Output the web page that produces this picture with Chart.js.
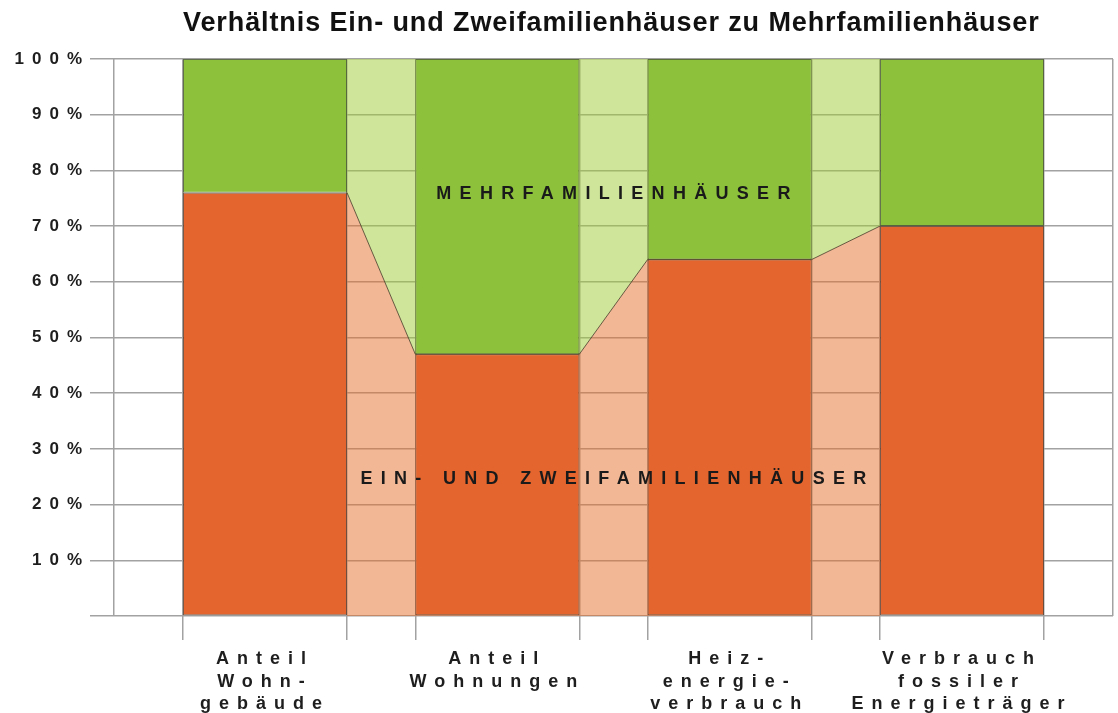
<!DOCTYPE html>
<html>
<head>
<meta charset="utf-8">
<script src="https://cdn.jsdelivr.net/npm/chart.js@4.4.1/dist/chart.umd.min.js"></script>
<style>
html, body { margin: 0; padding: 0; background: #fff; }
#wrap { position: relative; width: 1118px; height: 713px; }
#myChart { position: absolute; left: 0; top: 0; }
#title {
  position: absolute; left: 183px; top: 9px;
  font: bold 27px "Liberation Sans", Arial, sans-serif;
  line-height: 27px; letter-spacing: 0.9px; color: #111; white-space: nowrap;
}
</style>
</head>
<body>
<div id="wrap">
  <canvas id="myChart" width="1118" height="713"></canvas>
  <div id="title">Verhältnis Ein- und Zweifamilienhäuser zu Mehrfamilienhäuser</div>
</div>
<script>
// categories (one bar each) and share of Ein-/Zweifamilienhäuser in %
const categories = [
  ["Anteil", "Wohn-", "gebäude"],
  ["Anteil", "Wohnungen"],
  ["Heiz-", "energie-", "verbrauch"],
  ["Verbrauch", "fossiler", "Energieträger"]
];
const efhShare = [76, 47, 64, 70];
const areaLabels = ["MEHRFAMILIENHÄUSER", "EIN- UND ZWEIFAMILIENHÄUSER"];
const areaLabelY = [75.8, 24.6];
const yTicks = [0, 10, 20, 30, 40, 50, 60, 70, 80, 90, 100];

const BAR_FRAC = 0.706;   // bar width as part of one category step
const X_MIN = -0.65, X_MAX = 3.65;
const GRID = '#a2a2a2';
const ORANGE = '#e4652d', GREEN = '#8dc03b';
const FONT = '"Liberation Sans", Arial, sans-serif';

// bar edges -> vertical grid lines, connector points
const edges = [];
const joinPts = [];
efhShare.forEach((v, i) => {
  edges.push(i - BAR_FRAC / 2, i + BAR_FRAC / 2);
  if (i > 0) joinPts.push({x: i - BAR_FRAC / 2, y: v});
  if (i < efhShare.length - 1) joinPts.push({x: i + BAR_FRAC / 2, y: v});
});
const xGridTicks = [X_MIN].concat(edges, [X_MAX]);

const spacing = {
  id: 'spacing',
  beforeDraw(chart) { chart.ctx.letterSpacing = '8px'; }
};

const insideLabels = {
  id: 'insideLabels',
  afterDatasetsDraw(chart) {
    const ctx = chart.ctx, x = chart.scales.x, y = chart.scales.y;
    ctx.save();
    ctx.font = 'bold 18px ' + FONT;
    ctx.letterSpacing = '8.3px';
    ctx.fillStyle = '#1a1a1a';
    ctx.textAlign = 'center';
    ctx.textBaseline = 'middle';
    areaLabels.forEach((t, i) => {
      ctx.fillText(t, x.getPixelForValue(1.5) + 4, y.getPixelForValue(areaLabelY[i]));
    });
    ctx.restore();
  }
};

new Chart("myChart", {
  data: {
    datasets: [
      {
        type: 'bar', xAxisID: 'xl', order: 0, grouped: false,
        data: efhShare.map((v, i) => ({x: i, y: [0, v]})),
        backgroundColor: ORANGE, borderColor: 'rgba(90,50,30,0.75)', borderWidth: 1, borderSkipped: false,
        barPercentage: BAR_FRAC, categoryPercentage: 1
      },
      {
        type: 'bar', xAxisID: 'xl', order: 0, grouped: false,
        data: efhShare.map((v, i) => ({x: i, y: [v, 100]})),
        backgroundColor: GREEN, borderColor: 'rgba(60,80,30,0.75)', borderWidth: 1, borderSkipped: false,
        barPercentage: BAR_FRAC, categoryPercentage: 1
      },
      {
        type: 'line', xAxisID: 'x', order: 1,
        data: joinPts,
        fill: 'origin', backgroundColor: 'rgba(229,111,43,0.5)',
        borderColor: 'rgba(70,60,40,0.8)', borderWidth: 1, pointRadius: 0, tension: 0
      },
      {
        type: 'line', xAxisID: 'x', order: 1,
        data: joinPts.map(p => ({x: p.x, y: 100})),
        fill: '-1', backgroundColor: 'rgba(159,203,53,0.5)',
        borderWidth: 0, pointRadius: 0, tension: 0
      }
    ]
  },
  options: {
    responsive: false,
    animation: false,
    layout: {padding: {top: 59, right: 5, left: 0, bottom: 0}},
    plugins: {legend: {display: false}, tooltip: {enabled: false}, title: {display: false}},
    scales: {
      x: {
        type: 'linear', position: 'bottom', weight: 0, min: X_MIN, max: X_MAX, offset: false,
        afterBuildTicks: s => { s.ticks = xGridTicks.map(v => ({value: v})); },
        afterFit: s => { s.height = 24; },
        ticks: {display: false},
        border: {display: false},
        grid: {
          offset: false, color: GRID, lineWidth: 1.5, tickLength: 24,
          tickColor: c => (c.tick && (c.tick.value <= X_MIN + 1e-6 || c.tick.value >= X_MAX - 1e-6)) ? 'rgba(0,0,0,0)' : GRID
        }
      },
      xl: {
        type: 'linear', position: 'bottom', weight: 1, min: X_MIN, max: X_MAX, offset: false,
        afterBuildTicks: s => { s.ticks = categories.map((c, i) => ({value: i})); },
        afterFit: s => { s.height = 73; },
        border: {display: false},
        grid: {display: false, drawTicks: false, offset: false},
        ticks: {
          autoSkip: false, maxRotation: 0, padding: 8,
          color: '#1e1e1e', font: {family: FONT, size: 18, weight: 'bold', lineHeight: 1.25},
          callback: v => categories[v]
        }
      },
      y: {
        min: 0, max: 100,
        afterBuildTicks: s => { s.ticks = yTicks.map(v => ({value: v})); },
        afterFit: s => { s.width = 114; },
        border: {display: false},
        grid: {color: GRID, lineWidth: 1.5, tickLength: 24},
        ticks: {
          padding: 0, color: '#1e1e1e', font: {family: FONT, size: 17, weight: 'bold'},
          callback: v => v ? v + '%' : ''
        }
      }
    }
  },
  plugins: [spacing, insideLabels]
});
</script>
</body>
</html>
